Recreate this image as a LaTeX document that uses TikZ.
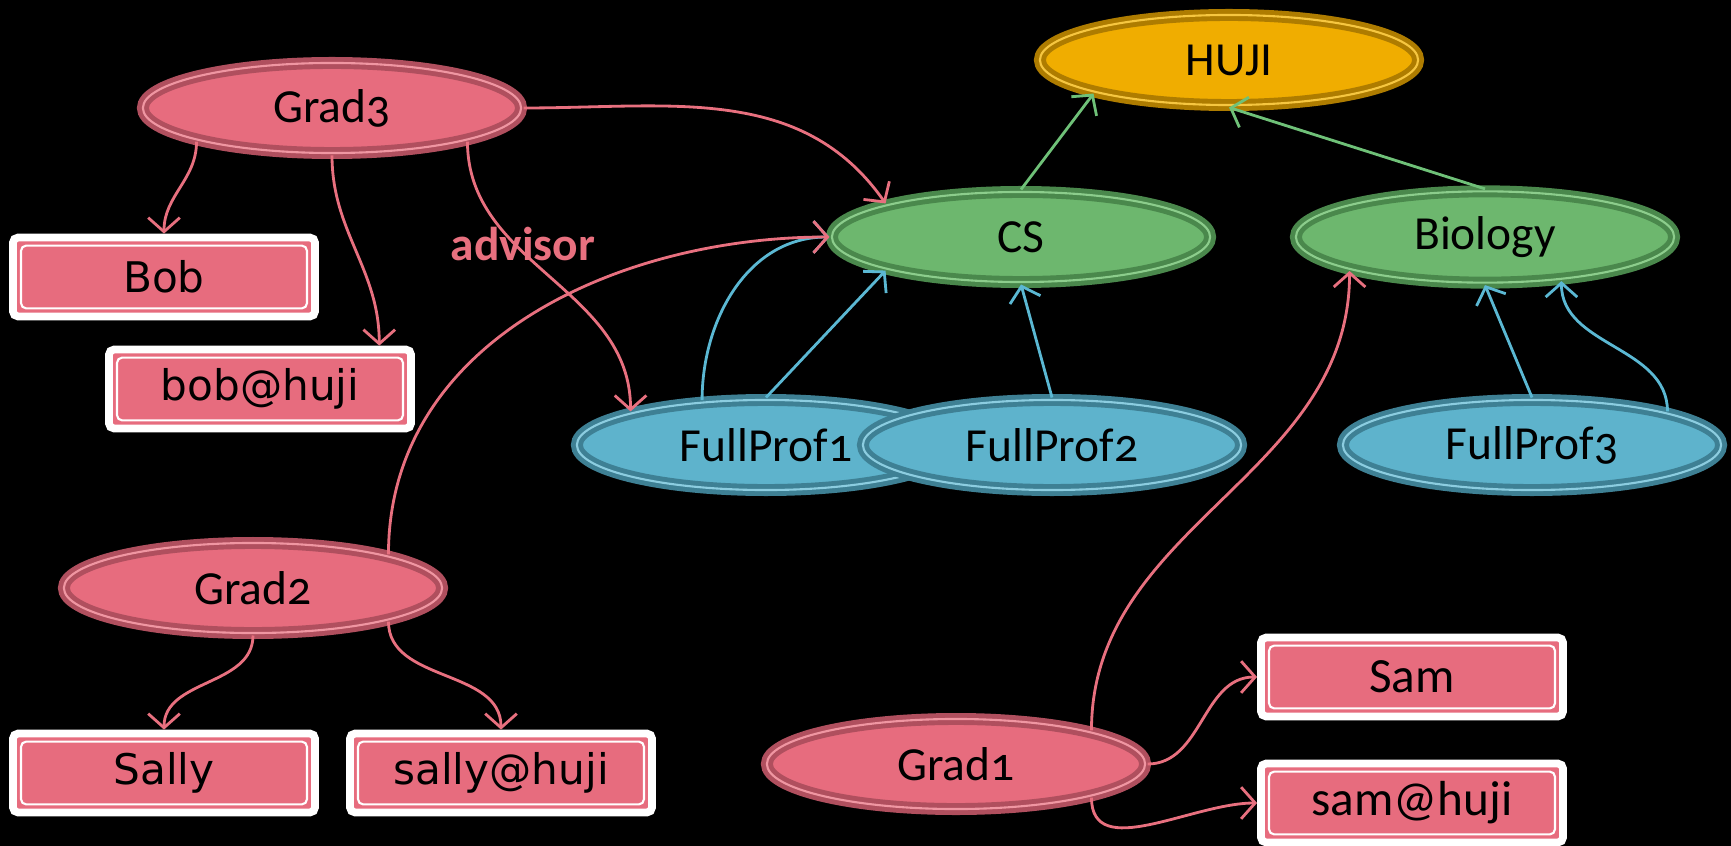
\documentclass[tikz,border=0pt]{standalone}
\usepackage{fontspec}
\usepackage{tikz}
\usetikzlibrary{shapes.geometric}
\usetikzlibrary{arrows.meta}
\newfontfamily\carlito[Numbers=OldStyle]{Carlito}
\newfontfamily\dejavu{DejaVu Sans}
\definecolor{pinkfill}{RGB}{231,108,126}
\definecolor{pinkdark}{RGB}{176,79,94}
\definecolor{pinkline}{RGB}{240,150,162}
\definecolor{pinkedge}{RGB}{232,112,127}
\definecolor{greenfill}{RGB}{109,183,110}
\definecolor{greendark}{RGB}{74,136,76}
\definecolor{greenline}{RGB}{140,205,140}
\definecolor{greenedge}{RGB}{111,193,120}
\definecolor{bluefill}{RGB}{94,179,204}
\definecolor{bluedark}{RGB}{62,128,148}
\definecolor{blueline}{RGB}{140,205,224}
\definecolor{blueedge}{RGB}{91,184,211}
\definecolor{goldfill}{RGB}{240,173,0}
\definecolor{golddark}{RGB}{174,124,0}
\definecolor{goldline}{RGB}{246,198,64}
\tikzset{
  ell/.style={ellipse, minimum width=3.78cm, minimum height=0.9cm, line width=1.4pt,
    double distance=0.6pt, font=\carlito\fontsize{13.5}{16}\selectfont},
  pinkell/.style={ell, draw=pinkdark, double=pinkline, fill=pinkfill},
  greenell/.style={ell, draw=greendark, double=greenline, fill=greenfill},
  blueell/.style={ell, draw=bluedark, double=blueline, fill=bluefill},
  goldell/.style={ell, draw=golddark, double=goldline, fill=goldfill},
  valbox/.style={rectangle, fill=pinkfill, draw=white, line width=2.2pt, rounded corners=1.5pt,
    minimum width=3.02cm, minimum height=0.79cm,
    path picture={\draw[white, line width=0.6pt]
      ([shift={(2.3pt,-2.3pt)}]path picture bounding box.north west) rectangle
      ([shift={(-2.3pt,2.3pt)}]path picture bounding box.south east);}},
  tip/.style={-{Straight Barb[length=4pt,width=9pt]}, line width=0.8pt},
  pinkarr/.style={tip, draw=pinkedge},
  bluearr/.style={tip, draw=blueedge},
  greenarr/.style={tip, draw=greenedge}
}
\begin{document}
\begin{tikzpicture}[x=0.01cm, y=-0.01cm]

    \path[use as bounding box, fill=black] (0,0) rectangle (1731,846);

    % Organisation
    \node (huji) [goldell] at (1229,60) {HUJI};
    \node (cs) [greenell] at (1021,237) {CS};
    \node (bio) [greenell] at (1485,237) {Biology};

    % Professors
    \node (fp1) [blueell] at (766,445) {FullProf1};
    \node (fp2) [blueell] at (1052,445) {FullProf2};
    \node (fp3) [blueell] at (1532,445) {FullProf3};

    % Students
    \node (grad3) [pinkell] at (332,108) {Grad3};
    \node (grad2) [pinkell] at (253,588) {Grad2};
    \node (grad1) [pinkell] at (956,764) {Grad1};

    % Values
    \node (bob) [valbox, font=\dejavu\fontsize{12}{14}\selectfont] at (164,277) {Bob};
    \node (bobmail) [valbox, font=\dejavu\fontsize{12}{14}\selectfont] at (260,389) {bob@huji};
    \node (sally) [valbox, font=\dejavu\fontsize{12}{14}\selectfont] at (164,773) {Sally};
    \node (sallymail) [valbox, font=\dejavu\fontsize{12}{14}\selectfont] at (501,773) {sally@huji};
    \node (sam) [valbox, font=\carlito\fontsize{14}{16}\selectfont] at (1412,677) {Sam};
    \node (sammail) [valbox, font=\carlito\fontsize{14}{16}\selectfont] at (1412,803) {sam@huji};

    % Label
    \node (advisor) [text=pinkedge, font=\carlito\bfseries\fontsize{13.5}{16}\selectfont] at (523,244) {advisor};

    % Arrows
    \draw[greenarr] (cs.north) -- (huji.south west);
    \draw[greenarr] (bio.north) -- (huji.south);
    \draw[bluearr] (fp1.145) to[out=90,in=180] (cs.west);
    \draw[bluearr] (fp1.north) -- (cs.south west);
    \draw[bluearr] (fp2.north) -- (cs.south);
    \draw[bluearr] (fp3.north) -- (bio.south);
    \draw[bluearr] (fp3.north east) to[out=90,in=-90] (bio.-30);
    \draw[pinkarr] (grad3.east) to[out=0,in=125] (cs.north west);
    \draw[pinkarr] (grad3.south west) to[out=-90,in=90] (bob.north);
    \draw[pinkarr] (grad3.south) to[out=-90,in=90] (bobmail.20);
    \draw[pinkarr] (grad3.south east) to[out=-90,in=90] (fp1.north west);
    \draw[pinkarr] (grad2.north east) to[out=90,in=180] (cs.west);
    \draw[pinkarr] (grad2.south) to[out=-90,in=90] (sally.north);
    \draw[pinkarr] (grad2.south east) to[out=-90,in=90] (sallymail.north);
    \draw[pinkarr] (grad1.north east) to[out=90,in=-90] (bio.south west);
    \draw[pinkarr] (grad1.east) to[out=0,in=180] (sam.west);
    \draw[pinkarr] (grad1.south east) to[out=-90,in=180] (sammail.west);

\end{tikzpicture}
\end{document}
